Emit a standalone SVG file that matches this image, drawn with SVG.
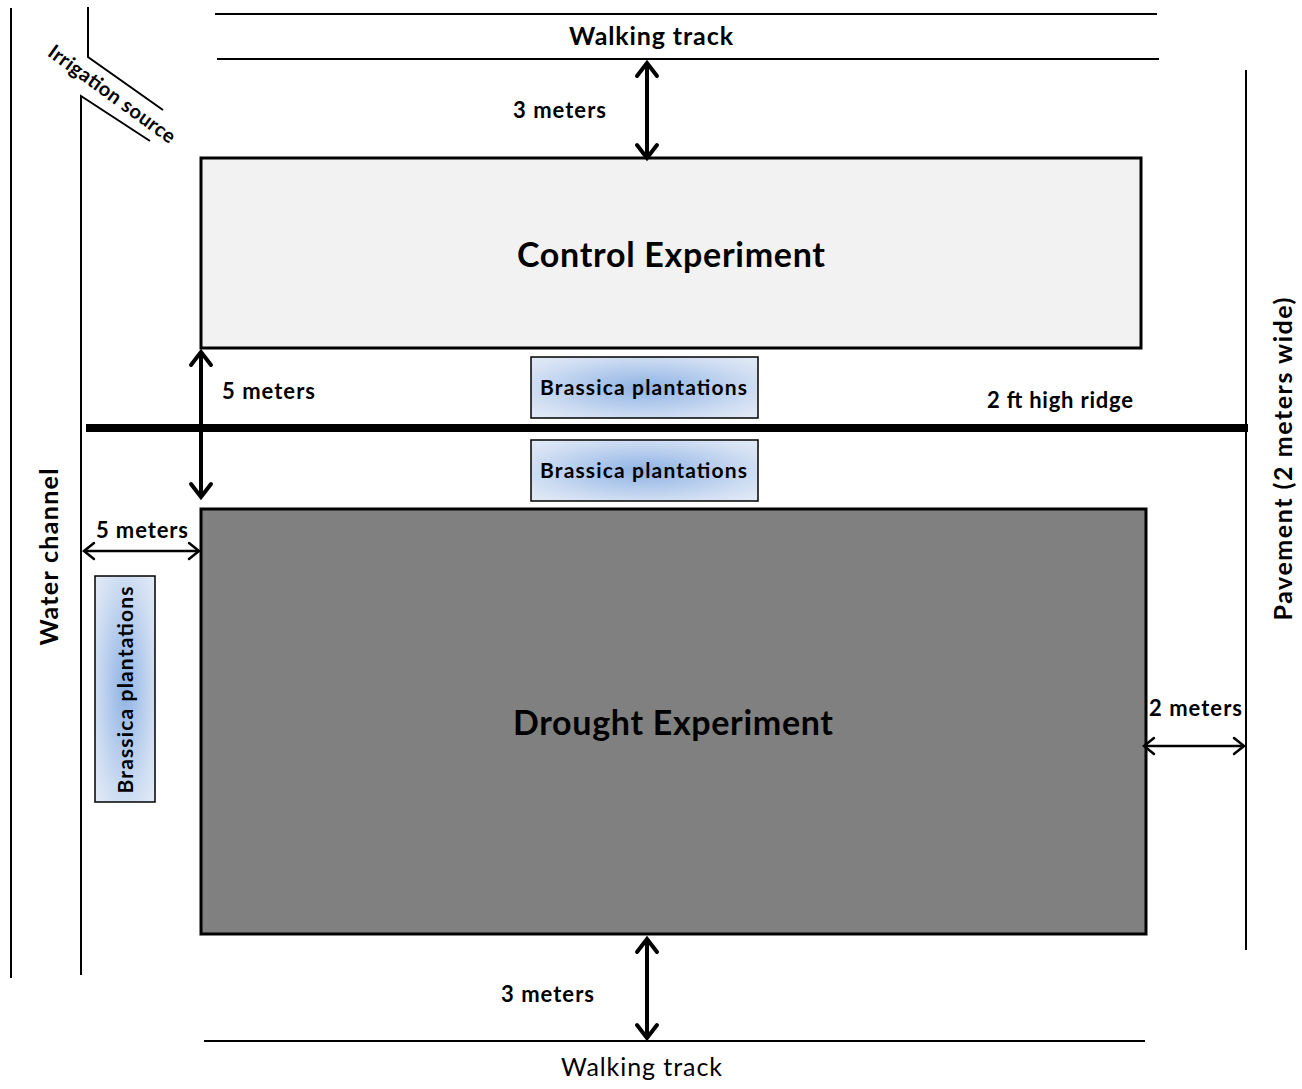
<svg xmlns="http://www.w3.org/2000/svg" width="1302" height="1089" viewBox="0 0 1302 1089">
<style>
.t{font-family:Lato,"Open Sans","Liberation Sans",sans-serif;font-weight:bold;fill:#000}
.ln{stroke:#000;stroke-width:2;fill:none}
.plant{stroke:#000;stroke-width:1.5}
</style>
<defs>
<radialGradient id="bg" cx="50%" cy="50%" r="70%">
<stop offset="0" stop-color="#8fb3e5"/>
<stop offset="0.75" stop-color="#d3e0f3"/>
<stop offset="1" stop-color="#e2eaf6"/>
</radialGradient>
<marker id="ah" markerUnits="userSpaceOnUse" markerWidth="30" markerHeight="30" viewBox="-15 -15 30 30" refX="0" refY="0" orient="auto-start-reverse" overflow="visible">
<path d="M-13,-10 L0,0 L-13,10" fill="none" stroke="#000" stroke-width="4" stroke-linecap="round" stroke-linejoin="miter"/>
</marker>
<marker id="ahs" markerUnits="userSpaceOnUse" markerWidth="30" markerHeight="30" viewBox="-15 -15 30 30" refX="0" refY="0" orient="auto-start-reverse" overflow="visible">
<path d="M-10,-8 L0,0 L-10,8" fill="none" stroke="#000" stroke-width="2.5" stroke-linecap="round"/>
</marker>
</defs>
<rect width="1302" height="1089" fill="#fff"/>

<g id="boundaries">
<line class="ln" x1="215" y1="14" x2="1157" y2="14"/>
<line class="ln" x1="217" y1="59" x2="1159" y2="59"/>
<line class="ln" x1="11" y1="8" x2="11" y2="978"/>
<polyline class="ln" points="88,7 88,57 163,110"/>
<polyline class="ln" points="150,141 81,96 81,975"/>
<line class="ln" x1="1246" y1="70" x2="1246" y2="950"/>
<line class="ln" x1="204" y1="1041" x2="1145" y2="1041"/>
<line x1="86" y1="428" x2="1248" y2="428" stroke="#000" stroke-width="8"/>
</g>

<g id="control">
<rect x="201" y="158" width="940" height="190" fill="#f2f2f2" stroke="#000" stroke-width="3"/>
<text class="t" x="671" y="267" font-size="34" text-anchor="middle" textLength="308" lengthAdjust="spacing">Control Experiment</text>
</g>
<g id="drought">
<rect x="201" y="509" width="945" height="425" fill="#808080" stroke="#000" stroke-width="3"/>
<text class="t" x="673" y="735" font-size="34" text-anchor="middle" textLength="320" lengthAdjust="spacing">Drought Experiment</text>
</g>
<g id="brassica1">
<rect class="plant" x="531" y="357" width="227" height="61" fill="url(#bg)"/>
<text class="t" x="643.5" y="395" font-size="21" text-anchor="middle" textLength="207" lengthAdjust="spacing">Brassica plantations</text>
</g>
<g id="brassica2">
<rect class="plant" x="531" y="440" width="227" height="61" fill="url(#bg)"/>
<text class="t" x="643.5" y="478" font-size="21" text-anchor="middle" textLength="207" lengthAdjust="spacing">Brassica plantations</text>
</g>
<g id="brassica3">
<rect class="plant" x="95" y="576" width="60" height="226" fill="url(#bg)"/>
<text class="t" transform="translate(133,690) rotate(-90)" font-size="21" text-anchor="middle" textLength="207" lengthAdjust="spacing">Brassica plantations</text>
</g>

<g id="connectors">
<line x1="647" y1="63" x2="647" y2="158" stroke="#000" stroke-width="4" marker-start="url(#ah)" marker-end="url(#ah)"/>
<line x1="201" y1="352" x2="201" y2="497" stroke="#000" stroke-width="4" marker-start="url(#ah)" marker-end="url(#ah)"/>
<line x1="647" y1="939" x2="647" y2="1038" stroke="#000" stroke-width="4" marker-start="url(#ah)" marker-end="url(#ah)"/>
<line x1="84" y1="551" x2="199" y2="551" stroke="#000" stroke-width="2.5" marker-start="url(#ahs)" marker-end="url(#ahs)"/>
<line x1="1144" y1="746" x2="1244" y2="746" stroke="#000" stroke-width="2.5" marker-start="url(#ahs)" marker-end="url(#ahs)"/>
</g>

<g id="labels">
<text class="t" x="651" y="45" font-size="25" text-anchor="middle" textLength="164" lengthAdjust="spacing">Walking track</text>
<text class="t" x="559.5" y="118" font-size="22" text-anchor="middle" textLength="93" lengthAdjust="spacing">3 meters</text>
<text class="t" x="268.5" y="399" font-size="22" text-anchor="middle" textLength="93" lengthAdjust="spacing">5 meters</text>
<text class="t" x="1060" y="408" font-size="22" text-anchor="middle" textLength="146" lengthAdjust="spacing">2 ft high ridge</text>
<text class="t" x="142" y="538" font-size="22" text-anchor="middle" textLength="92" lengthAdjust="spacing">5 meters</text>
<text class="t" x="1195.5" y="716" font-size="22" text-anchor="middle" textLength="93" lengthAdjust="spacing">2 meters</text>
<text class="t" x="547.5" y="1002" font-size="22" text-anchor="middle" textLength="93" lengthAdjust="spacing">3 meters</text>
<text x="641.5" y="1076" font-size="25" text-anchor="middle" textLength="161" lengthAdjust="spacing" font-family="Lato,'Open Sans','Liberation Sans',sans-serif" fill="#000">Walking track</text>
<text class="t" transform="translate(58,557) rotate(-90)" font-size="25" text-anchor="middle" textLength="177" lengthAdjust="spacing">Water channel</text>
<text class="t" transform="translate(1292,459) rotate(-90)" font-size="25" text-anchor="middle" textLength="323" lengthAdjust="spacing">Pavement (2 meters wide)</text>
<text class="t" transform="translate(112,94) rotate(36) translate(0,7)" font-size="20" text-anchor="middle" textLength="152" lengthAdjust="spacing">Irrigation source</text>
</g>
</svg>
